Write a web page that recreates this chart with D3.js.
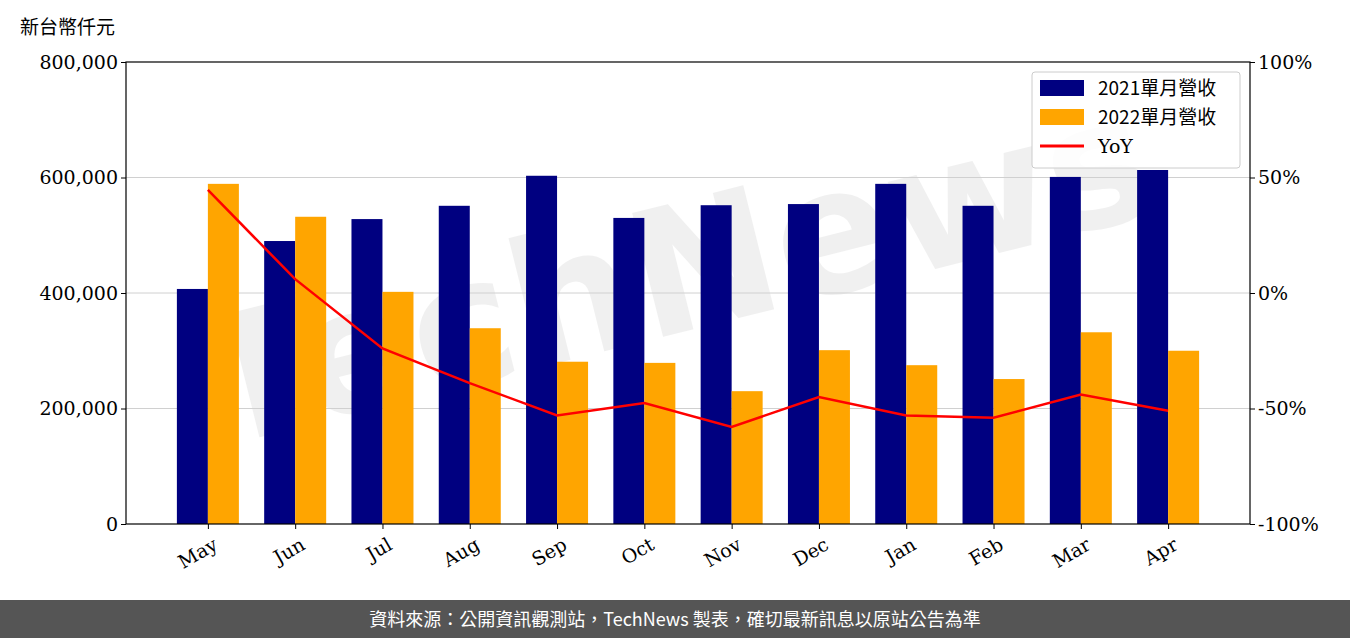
<!DOCTYPE html>
<html><head><meta charset="utf-8">
<script src="https://cdn.jsdelivr.net/npm/d3@7"></script>
<style>body{margin:0;background:#fff}svg{display:block}</style>
</head><body><svg id="c" width="1350" height="638"></svg>
<script>
const months = ["May","Jun","Jul","Aug","Sep","Oct","Nov","Dec","Jan","Feb","Mar","Apr"];
const rev2021 = [407000,490000,528000,551000,603000,530000,552000,554000,589000,551000,601000,613000];
const rev2022 = [589000,532000,402000,339000,281000,279000,230000,301000,275000,251000,332000,300000];
const yoy = [44.6,6,-24,-39,-53,-47.6,-58,-45,-53,-54,-44,-51];
const leftTicks = [0,200000,400000,600000,800000];
const rightTicks = [-100,-50,0,50,100];

const svg = d3.select("#c");
const L = 126, R = 1250, T = 62, B = 524;
const font = "'DejaVu Serif', serif";
const cjk = "'Noto Sans CJK TC', sans-serif";

const x = d3.scaleLinear().domain([-0.938, 11.938]).range([L, R]);
const y = d3.scaleLinear().domain([0, 800000]).range([B, T]);
const y2 = d3.scaleLinear().domain([-100, 100]).range([B, T]);
const bw = 31;

// watermark
svg.append("text").attr("transform", "translate(690,330) rotate(-14)")
  .attr("text-anchor", "middle").attr("font-family", "'DejaVu Sans', sans-serif")
  .attr("font-weight", "bold").attr("font-size", 175).attr("fill", "#999").attr("opacity", 0.14)
  .text("TechNews");

// grid
svg.append("g").selectAll("line").data(leftTicks.slice(1, 4)).join("line")
  .attr("x1", L).attr("x2", R).attr("y1", d => y(d)).attr("y2", d => y(d))
  .attr("stroke", "#d0d0d0").attr("stroke-width", 1);

svg.append("g").selectAll("rect").data(rev2021).join("rect")
  .attr("x", (d, i) => x(i) - bw).attr("width", bw).attr("y", d => y(d)).attr("height", d => B - y(d))
  .attr("fill", "#000080");
svg.append("g").selectAll("rect").data(rev2022).join("rect")
  .attr("x", (d, i) => x(i)).attr("width", bw).attr("y", d => y(d)).attr("height", d => B - y(d))
  .attr("fill", "#ffa500");

svg.append("path").datum(yoy)
  .attr("d", d3.line().x((d, i) => x(i)).y(d => y2(d)))
  .attr("fill", "none").attr("stroke", "#ff0000").attr("stroke-width", 2.5);

// frame
svg.append("rect").attr("x", L).attr("y", T).attr("width", R - L).attr("height", B - T)
  .attr("fill", "none").attr("stroke", "#000").attr("stroke-width", 1.2);

const ax = svg.append("g").attr("transform", `translate(0,${B})`)
  .call(d3.axisBottom(x).tickValues(d3.range(12)).tickFormat(i => months[i]).tickSizeOuter(0).tickSize(5));
ax.selectAll("text").attr("font-family", font).attr("font-size", 19).attr("fill", "#000")
  .attr("text-anchor", "end").attr("transform", "translate(0,6) rotate(-30)").attr("dy", "0.7em");
const ay = svg.append("g").attr("transform", `translate(${L},0)`)
  .call(d3.axisLeft(y).tickValues(leftTicks).tickFormat(d3.format(",")).tickSizeOuter(0).tickSize(5));
ay.selectAll("text").attr("font-family", font).attr("font-size", 19).attr("fill", "#000");
const ay2 = svg.append("g").attr("transform", `translate(${R},0)`)
  .call(d3.axisRight(y2).tickValues(rightTicks).tickFormat(d => d + "%").tickSizeOuter(0).tickSize(5));
ay2.selectAll("text").attr("font-family", font).attr("font-size", 19).attr("fill", "#000");
svg.selectAll(".domain").remove();
svg.selectAll(".tick line").attr("stroke", "#000");

svg.append("text").attr("x", 20).attr("y", 34).attr("font-family", cjk).attr("font-size", 19).text("新台幣仟元");

// legend
const lg = svg.append("g").attr("transform", "translate(1032,72)");
lg.append("rect").attr("width", 208).attr("height", 96).attr("rx", 3)
  .attr("fill", "#fff").attr("fill-opacity", 0.85).attr("stroke", "#ccc");
const items = [["2021單月營收", "#000080", "bar"], ["2022單月營收", "#ffa500", "bar"], ["YoY", "#ff0000", "line"]];
items.forEach((it, i) => {
  const g = lg.append("g").attr("transform", `translate(8,${8 + i * 29})`);
  if (it[2] === "bar") g.append("rect").attr("width", 44).attr("height", 16).attr("fill", it[1]);
  else g.append("line").attr("x1", 0).attr("x2", 44).attr("y1", 8).attr("y2", 8).attr("stroke", it[1]).attr("stroke-width", 3);
  g.append("text").attr("x", 58).attr("y", 15).attr("font-family", it[0] === "YoY" ? font : cjk)
    .attr("font-size", 19).text(it[0]);
});

// footer
svg.append("rect").attr("x", 0).attr("y", 600).attr("width", 1350).attr("height", 38).attr("fill", "#555");
svg.append("text").attr("x", 675).attr("y", 626).attr("text-anchor", "middle").attr("fill", "#fff")
  .attr("font-family", cjk).attr("font-size", 18).text("資料來源：公開資訊觀測站，TechNews 製表，確切最新訊息以原站公告為準");
</script></body></html>
